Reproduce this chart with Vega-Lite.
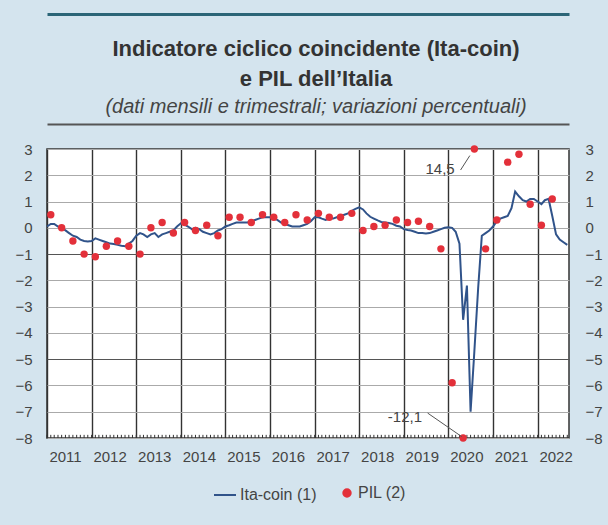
{
  "$schema": "https://vega.github.io/schema/vega-lite/v6.json",
  "autosize": {"type": "none"},
  "width": 522,
  "height": 289,
  "padding": {"left": 47, "top": 149, "right": 39, "bottom": 87},
  "background": "#d4e4ee",
  "config": {
    "font": "Liberation Sans",
    "view": {"fill": "white", "stroke": "#333", "strokeWidth": 1.5},
    "axis": {"labelFont": "Liberation Sans", "labelColor": "#444", "domain": false, "ticks": false, "title": null},
    "legend": {"orient": "none", "legendX": 166, "legendY": 334, "direction": "horizontal", "labelFontSize": 16, "labelColor": "#444", "columnPadding": 22, "labelOffset": 3, "symbolStrokeWidth": 2, "labelFont": "Liberation Sans"}
  },
  "title": {
    "text": ["Indicatore ciclico coincidente (Ita-coin)", "e PIL dell’Italia"],
    "subtitle": "(dati mensili e trimestrali; variazioni percentuali)",
    "anchor": "middle",
    "frame": "group",
    "offset": -104,
    "dx": 8,
    "font": "Liberation Sans",
    "fontSize": 22,
    "fontWeight": "bold",
    "color": "#333",
    "lineHeight": 30,
    "subtitleFont": "Liberation Sans",
    "subtitleFontSize": 20,
    "subtitleFontStyle": "italic",
    "subtitleColor": "#444",
    "subtitlePadding": 6
  },
  "datasets": {
    "ita": [
      {"date": "2011-01-01", "value": 0.05}, {"date": "2011-02-01", "value": 0.15}, {"date": "2011-03-01", "value": 0.15}, {"date": "2011-04-01", "value": 0.05},
      {"date": "2011-05-01", "value": 0.0}, {"date": "2011-06-01", "value": -0.1}, {"date": "2011-07-01", "value": -0.2}, {"date": "2011-08-01", "value": -0.3},
      {"date": "2011-09-01", "value": -0.35}, {"date": "2011-10-01", "value": -0.45}, {"date": "2011-11-01", "value": -0.5}, {"date": "2011-12-01", "value": -0.52},
      {"date": "2012-01-01", "value": -0.5}, {"date": "2012-02-01", "value": -0.4}, {"date": "2012-03-01", "value": -0.45}, {"date": "2012-04-01", "value": -0.5},
      {"date": "2012-05-01", "value": -0.55}, {"date": "2012-06-01", "value": -0.6}, {"date": "2012-07-01", "value": -0.62}, {"date": "2012-08-01", "value": -0.65},
      {"date": "2012-09-01", "value": -0.68}, {"date": "2012-10-01", "value": -0.7}, {"date": "2012-11-01", "value": -0.6}, {"date": "2012-12-01", "value": -0.5},
      {"date": "2013-01-01", "value": -0.3}, {"date": "2013-02-01", "value": -0.2}, {"date": "2013-03-01", "value": -0.25}, {"date": "2013-04-01", "value": -0.35},
      {"date": "2013-05-01", "value": -0.25}, {"date": "2013-06-01", "value": -0.2}, {"date": "2013-07-01", "value": -0.35}, {"date": "2013-08-01", "value": -0.25},
      {"date": "2013-09-01", "value": -0.2}, {"date": "2013-10-01", "value": -0.15}, {"date": "2013-11-01", "value": -0.1}, {"date": "2013-12-01", "value": 0.05},
      {"date": "2014-01-01", "value": 0.17}, {"date": "2014-02-01", "value": 0.12}, {"date": "2014-03-01", "value": 0.05}, {"date": "2014-04-01", "value": -0.05},
      {"date": "2014-05-01", "value": 0.0}, {"date": "2014-06-01", "value": -0.05}, {"date": "2014-07-01", "value": -0.15}, {"date": "2014-08-01", "value": -0.2},
      {"date": "2014-09-01", "value": -0.25}, {"date": "2014-10-01", "value": -0.2}, {"date": "2014-11-01", "value": -0.1}, {"date": "2014-12-01", "value": -0.05},
      {"date": "2015-01-01", "value": 0.05}, {"date": "2015-02-01", "value": 0.1}, {"date": "2015-03-01", "value": 0.15}, {"date": "2015-04-01", "value": 0.2},
      {"date": "2015-05-01", "value": 0.2}, {"date": "2015-06-01", "value": 0.2}, {"date": "2015-07-01", "value": 0.2}, {"date": "2015-08-01", "value": 0.25},
      {"date": "2015-09-01", "value": 0.3}, {"date": "2015-10-01", "value": 0.35}, {"date": "2015-11-01", "value": 0.4}, {"date": "2015-12-01", "value": 0.4},
      {"date": "2016-01-01", "value": 0.4}, {"date": "2016-02-01", "value": 0.35}, {"date": "2016-03-01", "value": 0.3}, {"date": "2016-04-01", "value": 0.2},
      {"date": "2016-05-01", "value": 0.15}, {"date": "2016-06-01", "value": 0.1}, {"date": "2016-07-01", "value": 0.05}, {"date": "2016-08-01", "value": 0.05},
      {"date": "2016-09-01", "value": 0.05}, {"date": "2016-10-01", "value": 0.1}, {"date": "2016-11-01", "value": 0.15}, {"date": "2016-12-01", "value": 0.25},
      {"date": "2017-01-01", "value": 0.4}, {"date": "2017-02-01", "value": 0.4}, {"date": "2017-03-01", "value": 0.35}, {"date": "2017-04-01", "value": 0.3},
      {"date": "2017-05-01", "value": 0.35}, {"date": "2017-06-01", "value": 0.35}, {"date": "2017-07-01", "value": 0.4}, {"date": "2017-08-01", "value": 0.45},
      {"date": "2017-09-01", "value": 0.5}, {"date": "2017-10-01", "value": 0.55}, {"date": "2017-11-01", "value": 0.65}, {"date": "2017-12-01", "value": 0.72},
      {"date": "2018-01-01", "value": 0.78}, {"date": "2018-02-01", "value": 0.7}, {"date": "2018-03-01", "value": 0.55}, {"date": "2018-04-01", "value": 0.42},
      {"date": "2018-05-01", "value": 0.35}, {"date": "2018-06-01", "value": 0.28}, {"date": "2018-07-01", "value": 0.22}, {"date": "2018-08-01", "value": 0.2},
      {"date": "2018-09-01", "value": 0.18}, {"date": "2018-10-01", "value": 0.15}, {"date": "2018-11-01", "value": 0.08}, {"date": "2018-12-01", "value": 0.05},
      {"date": "2019-01-01", "value": -0.05}, {"date": "2019-02-01", "value": -0.08}, {"date": "2019-03-01", "value": -0.1}, {"date": "2019-04-01", "value": -0.15},
      {"date": "2019-05-01", "value": -0.2}, {"date": "2019-06-01", "value": -0.2}, {"date": "2019-07-01", "value": -0.22}, {"date": "2019-08-01", "value": -0.2},
      {"date": "2019-09-01", "value": -0.15}, {"date": "2019-10-01", "value": -0.1}, {"date": "2019-11-01", "value": -0.05}, {"date": "2019-12-01", "value": 0.0},
      {"date": "2020-01-01", "value": 0.02}, {"date": "2020-02-01", "value": 0.0}, {"date": "2020-03-01", "value": -0.15}, {"date": "2020-04-01", "value": -0.6},
      {"date": "2020-05-01", "value": -3.5}, {"date": "2020-06-01", "value": -2.2}, {"date": "2020-07-01", "value": -7.0}, {"date": "2020-08-01", "value": -4.7},
      {"date": "2020-09-01", "value": -2.3}, {"date": "2020-10-01", "value": -0.3}, {"date": "2020-11-01", "value": -0.2}, {"date": "2020-12-01", "value": -0.1},
      {"date": "2021-01-01", "value": 0.05}, {"date": "2021-02-01", "value": 0.25}, {"date": "2021-03-01", "value": 0.35}, {"date": "2021-04-01", "value": 0.4},
      {"date": "2021-05-01", "value": 0.45}, {"date": "2021-06-01", "value": 0.75}, {"date": "2021-07-01", "value": 1.38}, {"date": "2021-08-01", "value": 1.2},
      {"date": "2021-09-01", "value": 1.05}, {"date": "2021-10-01", "value": 1.0}, {"date": "2021-11-01", "value": 1.1}, {"date": "2021-12-01", "value": 1.1},
      {"date": "2022-01-01", "value": 1.0}, {"date": "2022-02-01", "value": 0.9}, {"date": "2022-03-01", "value": 1.05}, {"date": "2022-04-01", "value": 1.1},
      {"date": "2022-05-01", "value": 0.45}, {"date": "2022-06-01", "value": -0.25}, {"date": "2022-07-01", "value": -0.45}, {"date": "2022-08-01", "value": -0.55},
      {"date": "2022-09-01", "value": -0.65}
    ],
    "pil": [
      {"date": "2011-02-01", "value": 0.5}, {"date": "2011-05-01", "value": 0.0}, {"date": "2011-08-01", "value": -0.5}, {"date": "2011-11-01", "value": -1.0},
      {"date": "2012-02-01", "value": -1.1}, {"date": "2012-05-01", "value": -0.7}, {"date": "2012-08-01", "value": -0.5}, {"date": "2012-11-01", "value": -0.7},
      {"date": "2013-02-01", "value": -1.0}, {"date": "2013-05-01", "value": 0.0}, {"date": "2013-08-01", "value": 0.2}, {"date": "2013-11-01", "value": -0.2},
      {"date": "2014-02-01", "value": 0.2}, {"date": "2014-05-01", "value": -0.1}, {"date": "2014-08-01", "value": 0.1}, {"date": "2014-11-01", "value": -0.3},
      {"date": "2015-02-01", "value": 0.4}, {"date": "2015-05-01", "value": 0.4}, {"date": "2015-08-01", "value": 0.2}, {"date": "2015-11-01", "value": 0.5},
      {"date": "2016-02-01", "value": 0.4}, {"date": "2016-05-01", "value": 0.2}, {"date": "2016-08-01", "value": 0.5}, {"date": "2016-11-01", "value": 0.3},
      {"date": "2017-02-01", "value": 0.55}, {"date": "2017-05-01", "value": 0.4}, {"date": "2017-08-01", "value": 0.4}, {"date": "2017-11-01", "value": 0.55},
      {"date": "2018-02-01", "value": -0.1}, {"date": "2018-05-01", "value": 0.05}, {"date": "2018-08-01", "value": 0.1}, {"date": "2018-11-01", "value": 0.3},
      {"date": "2019-02-01", "value": 0.2}, {"date": "2019-05-01", "value": 0.25}, {"date": "2019-08-01", "value": 0.05}, {"date": "2019-11-01", "value": -0.8},
      {"date": "2020-02-01", "value": -5.9}, {"date": "2020-05-01", "value": -12.1}, {"date": "2020-08-01", "value": 14.5}, {"date": "2020-11-01", "value": -0.8},
      {"date": "2021-02-01", "value": 0.3}, {"date": "2021-05-01", "value": 2.5}, {"date": "2021-08-01", "value": 2.8}, {"date": "2021-11-01", "value": 0.9},
      {"date": "2022-02-01", "value": 0.1}, {"date": "2022-05-01", "value": 1.1}
    ],
    "labels": [
      {"date": "2019-10-25", "value": 2.25, "label": "14,5"},
      {"date": "2019-01-10", "value": -7.2, "label": "-12,1"}
    ],
    "leaders": [
      {"date": "2020-04-10", "value": 2.2, "date2": "2020-06-25", "value2": 2.75},
      {"date": "2019-07-15", "value": -7.05, "date2": "2020-04-20", "value2": -7.95}
    ]
  },
  "layer": [
    {
      "data": {"name": "ita"},
      "mark": {"type": "rule", "color": "#333", "strokeWidth": 1},
      "encoding": {
        "x": {"field": "date", "type": "temporal", "scale": {"domain": ["2011-01-01", "2022-09-15"]}, "axis": {"orient": "bottom", "values": [{"year": 2011}, {"year": 2012}, {"year": 2013}, {"year": 2014}, {"year": 2015}, {"year": 2016}, {"year": 2017}, {"year": 2018}, {"year": 2019}, {"year": 2020}, {"year": 2021}, {"year": 2022}], "format": "%Y", "labelOverlap": false, "grid": true, "gridColor": "#333", "gridWidth": 1.4, "gridOpacity": 1, "labelOffset": 18, "labelPadding": 11, "labelFontSize": 15, "labelBound": false, "labelFlush": false}},
        "y": {"datum": -8, "type": "quantitative", "scale": {"domain": [-8, 3], "clamp": true, "nice": false}, "axis": {"orient": "left", "values": [-8, -7, -6, -5, -4, -3, -2, -1, 0, 1, 2, 3], "grid": true, "gridColor": {"condition": {"test": "datum.value === -1 || datum.value === -5", "value": "#555"}, "value": "#aaa"}, "gridWidth": 1, "labelPadding": 15, "labelFontSize": 15}},
        "y2": {"datum": -7.88}
      }
    },
    {
      "data": {"name": "ita"},
      "mark": {"type": "line", "color": "#30538a", "strokeWidth": 2},
      "encoding": {
        "x": {"field": "date", "type": "temporal", "axis": {"orient": "top", "offset": 25, "domain": true, "domainColor": "#555", "domainWidth": 2, "labels": false, "ticks": false, "grid": false}},
        "y": {"field": "value", "type": "quantitative", "axis": null},
        "color": {"datum": "Ita-coin (1)", "type": "nominal", "scale": {"domain": ["Ita-coin (1)", "PIL (2)"], "range": ["#30538a", "#e3303a"]}, "legend": {"title": null, "encode": {"symbols": {"update": {"stroke": {"scale": "color", "field": "value"}, "strokeWidth": {"value": 2}}}}}}
      }
    },
    {
      "data": {"name": "pil"},
      "mark": {"type": "point", "filled": true, "opacity": 1},
      "encoding": {
        "x": {"field": "date", "type": "temporal", "axis": {"orient": "top", "offset": 135, "domain": true, "domainColor": "#2b6577", "domainWidth": 3, "labels": false, "ticks": false, "grid": false}},
        "y": {"field": "value", "type": "quantitative", "axis": {"orient": "right", "values": [-8, -7, -6, -5, -4, -3, -2, -1, 0, 1, 2, 3], "grid": false, "labelPadding": 16, "labelFontSize": 15}},
        "color": {"datum": "PIL (2)", "type": "nominal", "legend": {"title": null}},
        "shape": {"datum": "PIL (2)", "type": "nominal", "scale": {"domain": ["Ita-coin (1)", "PIL (2)"], "range": ["stroke", "circle"]}, "legend": {"title": null}},
        "size": {"datum": "PIL (2)", "type": "nominal", "scale": {"domain": ["Ita-coin (1)", "PIL (2)"], "range": [484, 55]}, "legend": {"title": null}}
      }
    },
    {
      "data": {"name": "leaders"},
      "mark": {"type": "rule", "color": "#555", "strokeWidth": 1},
      "encoding": {
        "x": {"field": "date", "type": "temporal", "axis": null},
        "y": {"field": "value", "type": "quantitative", "axis": null},
        "x2": {"field": "date2"},
        "y2": {"field": "value2"}
      }
    },
    {
      "data": {"name": "labels"},
      "mark": {"type": "text", "fontSize": 15, "color": "#444", "font": "Liberation Sans"},
      "encoding": {
        "x": {"field": "date", "type": "temporal", "axis": null},
        "y": {"field": "value", "type": "quantitative", "axis": null},
        "text": {"field": "label"}
      }
    }
  ],
  "resolve": {"axis": {"x": "independent", "y": "independent"}}
}
